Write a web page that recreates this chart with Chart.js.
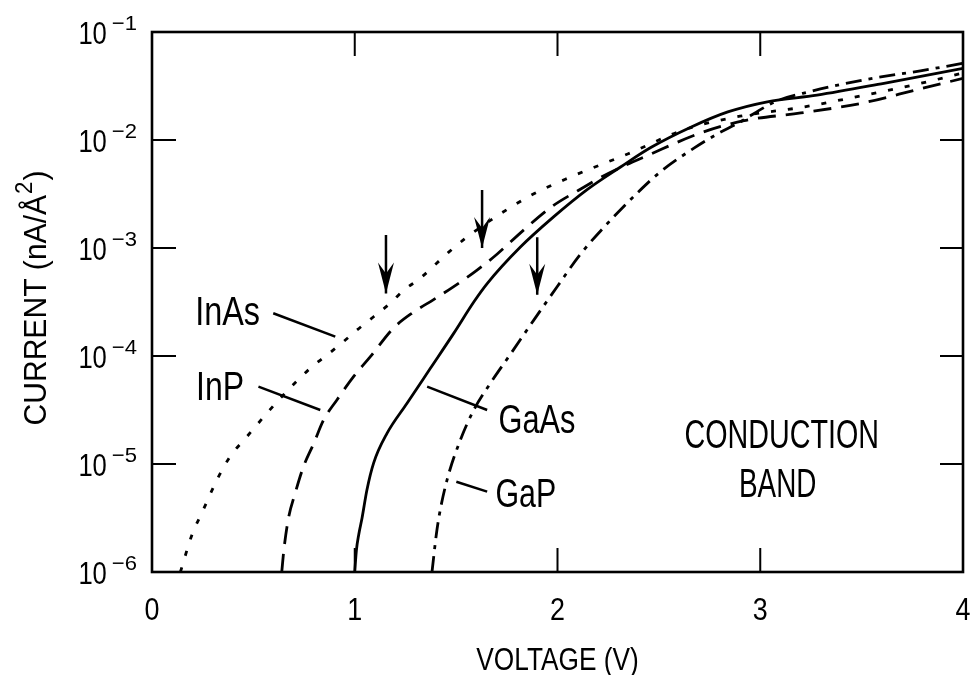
<!DOCTYPE html>
<html>
<head>
<meta charset="utf-8">
<script src="https://cdn.jsdelivr.net/npm/chart.js@4/dist/chart.umd.min.js"></script>
<style>
  html, body { margin: 0; padding: 0; background: #fff; }
</style>
</head>
<body>
<canvas id="ivChart" width="972" height="675"></canvas>
<script>
const FONT = '"Liberation Sans", Arial, sans-serif'

// voltage (V) / current (nA/Å²)
const inasV = [0.14, 0.20, 0.245, 0.32, 0.385, 0.468, 0.566, 0.648, 0.78, 0.863, 0.945, 1.011, 1.093, 1.175, 1.241, 1.323, 1.462, 1.546, 1.709, 1.881, 2.064, 2.252, 2.346, 2.622, 2.90, 3.20, 3.50, 3.78, 4.00]
const inasI = [1.0e-6, 2.29e-6, 3.49e-6, 7.11e-6, 1.17e-5, 1.79e-5, 2.94e-5, 4.36e-5, 7.69e-5, 1.02e-4, 1.36e-4, 1.74e-4, 2.31e-4, 3.08e-4, 4.06e-4, 5.25e-4, 9.1e-4, 1.23e-3, 2.02e-3, 3.16e-3, 4.54e-3, 6.31e-3, 7.41e-3, 1.24e-2, 1.66e-2, 2.0e-2, 2.57e-2, 3.31e-2, 4.17e-2]

const inpV = [0.64, 0.65, 0.673, 0.706, 0.747, 0.797, 0.846, 0.912, 0.994, 1.077, 1.192, 1.290, 1.389, 1.488, 1.60, 1.70, 1.83, 1.97, 2.10, 2.25, 2.46, 2.71, 2.92, 3.20, 3.50, 3.78, 4.00]
const inpI = [1.0e-6, 1.58e-6, 3.14e-6, 5.35e-6, 9.44e-6, 1.54e-5, 2.55e-5, 3.92e-5, 6.44e-5, 9.86e-5, 1.82e-4, 2.55e-4, 3.33e-4, 4.39e-4, 6.17e-4, 8.71e-4, 1.45e-3, 2.40e-3, 3.39e-3, 4.90e-3, 7.41e-3, 1.17e-2, 1.51e-2, 1.78e-2, 2.19e-2, 2.95e-2, 3.72e-2]

const gaasV = [1.00, 1.008, 1.02, 1.036, 1.06, 1.093, 1.159, 1.258, 1.373, 1.488, 1.587, 1.653, 1.817, 1.982, 2.146, 2.311, 2.46, 2.66, 2.84, 3.035, 3.28, 3.61, 4.00]
const gaasI = [1.0e-6, 1.58e-6, 2.24e-6, 3.16e-6, 5.75e-6, 1.02e-5, 1.92e-5, 3.65e-5, 7.69e-5, 1.62e-4, 3.16e-4, 4.68e-4, 1.02e-3, 1.95e-3, 3.47e-3, 5.62e-3, 8.51e-3, 1.32e-2, 1.82e-2, 2.26e-2, 2.60e-2, 3.35e-2, 4.61e-2]

const gapV = [1.381, 1.402, 1.417, 1.455, 1.521, 1.587, 1.669, 1.768, 1.883, 1.999, 2.114, 2.278, 2.394, 2.509, 2.673, 2.789, 2.887, 3.08, 3.25, 3.52, 3.79, 4.00]
const gapI = [1.0e-6, 2.2e-6, 3.37e-6, 7.1e-6, 1.67e-5, 3.16e-5, 5.6e-5, 1.04e-4, 2.15e-4, 4.4e-4, 8.8e-4, 1.95e-3, 3.24e-3, 5.1e-3, 8.4e-3, 1.14e-2, 1.42e-2, 2.29e-2, 2.82e-2, 3.63e-2, 4.37e-2, 5.13e-2]

// axis ticks
const xTicks = [0, 1, 2, 3, 4]
const yTicks = [1e-1, 1e-2, 1e-3, 1e-4, 1e-5, 1e-6]
const yTickExp = ['−1', '−2', '−3', '−4', '−5', '−6']

// arrows (voltage, tail current, tip current)
const arrowV = [1.154, 1.628, 1.90]
const arrowFrom = [1.32e-3, 3.44e-3, 1.26e-3]
const arrowTo = [3.8e-4, 1.0e-3, 3.7e-4]

// label leader lines
const leaderV = [[0.598, 0.904], [0.525, 0.830], [1.357, 1.653], [1.501, 1.653]]
const leaderI = [[2.49e-4, 1.51e-4], [5.2e-5, 3.16e-5], [5.2e-5, 3.16e-5], [6.85e-6, 5.55e-6]]

const pts = (xs, ys) => xs.map((x, i) => ({x: x, y: ys[i]}))

const curve = (label, xs, ys, dash) => ({
    label: label,
    data: pts(xs, ys),
    borderColor: '#000',
    borderWidth: 2.8,
    borderDash: dash,
    pointRadius: 0,
    fill: false,
    cubicInterpolationMode: 'monotone',
})

const plain = (xs, ys) => ({
    data: pts(xs, ys),
    borderColor: '#000',
    borderWidth: 2.5,
    pointRadius: 0,
    fill: false,
})

const datasets = [
    curve('InAs', inasV, inasI, [5, 12]),
    curve('InP', inpV, inpI, [18, 10]),
    curve('GaAs', gaasV, gaasI, []),
    curve('GaP', gapV, gapI, [16, 7, 4, 7]),
]
arrowV.forEach((v, i) => datasets.push(plain([v, v], [arrowFrom[i], arrowTo[i]])))
leaderV.forEach((xs, i) => datasets.push(plain(xs, leaderI[i])))

// text labels: [text, voltage, current (baseline), align, width scale]
const labels = [
    ['InAs', 0.533, 1.94e-4, 'right', 0.79],
    ['InP', 0.454, 3.92e-5, 'right', 0.78],
    ['GaAs', 1.709, 1.94e-5, 'left', 0.75],
    ['GaP', 1.694, 4.0e-6, 'left', 0.74],
    ['CONDUCTION', 3.106, 1.41e-5, 'center', 0.7],
    ['BAND', 3.086, 4.94e-6, 'center', 0.68],
]

// condensed text: draws s with its width squeezed by sx
function txt(ctx, s, x, y, size, align, sx) {
    ctx.save()
    ctx.font = size + 'px ' + FONT
    const w = ctx.measureText(s).width * sx
    const x0 = align === 'center' ? x - w / 2 : align === 'right' ? x - w : x
    ctx.translate(x0, y)
    ctx.scale(sx, 1)
    ctx.textAlign = 'left'
    ctx.textBaseline = 'alphabetic'
    ctx.fillText(s, 0, 0)
    ctx.restore()
    return w
}

function measure(ctx, s, size, sx) {
    ctx.font = size + 'px ' + FONT
    return ctx.measureText(s).width * sx
}

const frame = {
    id: 'frame',
    afterDraw(chart) {
        const ctx = chart.ctx
        const xs = chart.scales.x
        const ys = chart.scales.y
        const a = chart.chartArea
        ctx.save()
        ctx.strokeStyle = '#000'
        ctx.fillStyle = '#000'

        // box
        ctx.lineWidth = 2.6
        ctx.strokeRect(a.left, a.top, a.right - a.left, a.bottom - a.top)

        // inward ticks
        ctx.lineWidth = 2
        ctx.beginPath()
        xTicks.slice(1, -1).forEach(v => {
            const px = xs.getPixelForValue(v)
            ctx.moveTo(px, a.bottom); ctx.lineTo(px, a.bottom - 24)
            ctx.moveTo(px, a.top); ctx.lineTo(px, a.top + 24)
        })
        yTicks.slice(1, -1).forEach(v => {
            const py = ys.getPixelForValue(v)
            ctx.moveTo(a.left, py); ctx.lineTo(a.left + 24, py)
            ctx.moveTo(a.right, py); ctx.lineTo(a.right - 23, py)
        })
        ctx.stroke()

        // x tick labels
        xTicks.forEach(v => txt(ctx, String(v), xs.getPixelForValue(v), a.bottom + 48, 32, 'center', 0.84))

        // y tick labels: 10 with superscript
        yTicks.forEach((v, i) => {
            const py = ys.getPixelForValue(v)
            const we = measure(ctx, yTickExp[i], 21, 1.05)
            const supX = a.left - 15 - we
            txt(ctx, yTickExp[i], supX, py - 2, 21, 'left', 1.05)
            txt(ctx, '10', supX - 5, py + 12, 32, 'right', 0.8)
        })

        // axis titles
        txt(ctx, 'VOLTAGE (V)', (a.left + a.right) / 2, a.bottom + 98, 32, 'center', 0.82)

        ctx.save()
        ctx.translate(46, (a.top + a.bottom) / 2 - 4)
        ctx.rotate(-Math.PI / 2)
        const t1 = 'CURRENT (nA/Å', t2 = '2', t3 = ')'
        const w1 = measure(ctx, t1, 31, 0.97), w2 = measure(ctx, t2, 23, 0.97), w3 = measure(ctx, t3, 31, 0.97)
        let cx = -(w1 + w2 + w3 + 2) / 2
        txt(ctx, t1, cx, 0, 31, 'left', 0.97); cx += w1 + 1
        txt(ctx, t2, cx, -14, 23, 'left', 0.97); cx += w2 + 1
        txt(ctx, t3, cx, 0, 31, 'left', 0.97)
        ctx.restore()

        // arrowheads
        arrowV.forEach((v, i) => {
            const px = xs.getPixelForValue(v)
            const py = ys.getPixelForValue(arrowTo[i])
            ctx.beginPath()
            ctx.moveTo(px, py)
            ctx.lineTo(px - 8, py - 31)
            ctx.lineTo(px, py - 20)
            ctx.lineTo(px + 8, py - 31)
            ctx.closePath()
            ctx.fill()
        })

        // curve labels
        labels.forEach(l => txt(ctx, l[0], xs.getPixelForValue(l[1]), ys.getPixelForValue(l[2]), 41, l[3], l[4]))
        ctx.restore()
    }
}

new Chart(document.getElementById('ivChart').getContext('2d'), {
    type: 'line',
    data: { datasets: datasets },
    options: {
        responsive: false,
        animation: false,
        devicePixelRatio: 1,
        layout: { padding: { left: 152, top: 32, right: 9, bottom: 103 } },
        plugins: {
            legend: { display: false },
            tooltip: { enabled: false },
        },
        scales: {
            x: { type: 'linear', min: 0, max: 4, display: false },
            y: { type: 'logarithmic', min: 1e-6, max: 1e-1, display: false },
        },
    },
    plugins: [frame],
})
</script>
</body>
</html>
